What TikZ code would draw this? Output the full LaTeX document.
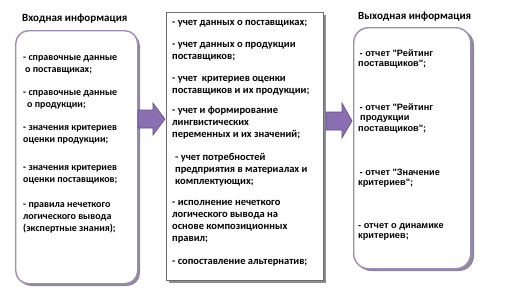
\documentclass[tikz,border=0pt]{standalone}
\usepackage{fontspec}
\setmainfont{Carlito}
\newfontfamily\arialf{Liberation Sans}
\definecolor{boxpurple}{RGB}{158,140,188}
\definecolor{shadowgrey}{RGB}{140,138,150}
\definecolor{midborder}{RGB}{110,110,110}
\definecolor{arrowfill}{RGB}{138,112,178}
\definecolor{arrowdraw}{RGB}{96,76,138}
\begin{document}
\begin{tikzpicture}[x=1pt,y=-1pt,
  roundbox/.style={draw=boxpurple,line width=1.4pt,fill=white,rounded corners=13pt,inner sep=0pt},
  midbox/.style={draw=midborder,line width=1pt,fill=white,inner sep=0pt},
  blockarrow/.style={fill=arrowfill,draw=arrowdraw,line width=0.6pt},
  header/.style={font=\bfseries\fontsize{11}{13}\selectfont,anchor=base west,inner sep=0pt},
  ltxt/.style={font=\bfseries\fontsize{10}{12}\selectfont,anchor=base west,align=left,inner sep=0pt},
  mtxt/.style={font=\bfseries\fontsize{10.5}{12}\selectfont,anchor=base west,align=left,inner sep=0pt},
  rtxt/.style={font=\arialf\bfseries\fontsize{9.2}{10.5}\selectfont,anchor=base west,align=left,inner sep=0pt}]
\useasboundingbox[fill=white] (0,0) rectangle (508,295);

% shadows
\fill[shadowgrey,rounded corners=13pt] (18,33) rectangle (140,286);
\fill[shadowgrey] (169,15) rectangle (326,283);
\fill[shadowgrey,rounded corners=15pt] (356,30) rectangle (474,271);

% boxes
\node[roundbox,minimum width=122pt,minimum height=253pt,anchor=north west] (inbox) at (15,30) {};
\node[midbox,minimum width=157pt,minimum height=268pt,anchor=north west] (procbox) at (166,12) {};
\node[roundbox,rounded corners=15pt,minimum width=117pt,minimum height=241pt,anchor=north west] (outbox) at (353,27) {};

% headers
\node[header] (inhead) at (22,21) {Входная информация};
\node[header] (outhead) at (358,19) {Выходная информация};

% block arrows
\coordinate (a1) at (138,119);
\coordinate (a2) at (326,121);
\draw[blockarrow] (a1) ++(0,-9) -- ++(15,0) -- ++(0,-7) -- (165,119) -- (153,135) -- ++(0,-7) -- ++(-15,0) -- cycle;
\draw[blockarrow] (a2) ++(0,-9) -- ++(16,0) -- ++(0,-9) -- (352,121) -- (342,138) -- ++(0,-8) -- ++(-16,0) -- cycle;

% left texts (anchored at the baseline of the last line)
\node[ltxt] (l1) at (23,72) {- справочные данные\\\hspace{2pt}о поставщиках;};
\node[ltxt] (l2) at (23,107) {- справочные данные\\\hspace{4pt}о продукции;};
\node[ltxt] (l3) at (23,142) {- значения критериев\\оценки продукции;};
\node[ltxt] (l4) at (23,182) {- значения критериев\\оценки поставщиков;};
\node[ltxt] (l5) at (23,231) {- правила нечеткого\\логического вывода\\(экспертные знания);};

% middle texts
\node[mtxt] (m1) at (172,25) {- учет данных о поставщиках;};
\node[mtxt] (m2) at (172,59) {- учет данных о продукции\\поставщиков;};
\node[mtxt] (m3) at (172,93) {- учет\ \ критериев оценки\\поставщиков и их продукции;};
\node[mtxt] (m4) at (172,137) {- учет и формирование\\лингвистических\\переменных и их значений;};
\node[mtxt] (m5) at (175,184) {- учет потребностей\\предприятия в материалах и\\комплектующих;};
\node[mtxt] (m6) at (172,241) {- исполнение нечеткого\\логического вывода на\\основе композиционных\\правил;};
\node[mtxt] (m7) at (172,264) {- сопоставление альтернатив;};

% right texts
\node[rtxt] (r1) at (358,66.5) {\hspace{1.5pt}- отчет "Рейтинг\\поставщиков";};
\node[rtxt] (r2) at (358,131) {\hspace{1.5pt}- отчет "Рейтинг\\\hspace{2pt}продукции\\поставщиков";};
\node[rtxt] (r3) at (358,185.5) {\hspace{1.5pt}- отчет "Значение\\критериев";};
\node[rtxt] (r4) at (358,238.5) {- отчет о динамике\\критериев;};
\end{tikzpicture}
\end{document}
